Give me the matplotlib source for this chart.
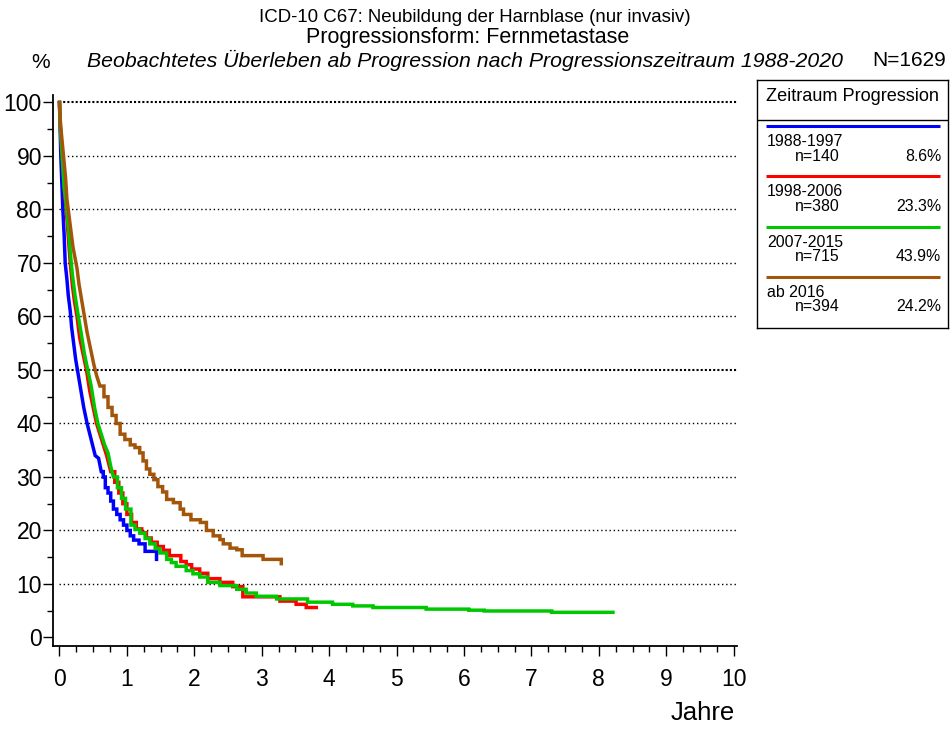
import matplotlib
matplotlib.use('Agg')
import matplotlib.pyplot as plt
from matplotlib.ticker import MultipleLocator

plt.rcParams['font.family'] = ['Liberation Sans', 'DejaVu Sans']

# Kaplan-Meier steps (years, survival in %)
t_1988 = [0, 0.01, 0.02, 0.035, 0.05, 0.07, 0.085, 0.11, 0.13, 0.16, 0.18, 0.21, 0.24,
          0.28, 0.32, 0.36, 0.41, 0.45, 0.49, 0.53, 0.58, 0.62, 0.65, 0.68, 0.72, 0.76,
          0.8, 0.85, 0.9, 0.95, 1.0, 1.05, 1.1, 1.18, 1.27, 1.44]
s_1988 = [100, 95, 90, 85, 80, 75, 70, 67, 64, 61, 58, 55, 52,
          49, 46, 43, 40, 38, 36, 34, 33.5, 31, 30, 28, 27, 25.5,
          24, 23, 22, 21, 20, 19, 18.2, 17.5, 16.1, 14.6]

t_1998 = [0, 0.01, 0.03, 0.05, 0.07, 0.1, 0.13, 0.16, 0.19, 0.22, 0.26, 0.3, 0.35, 0.4,
          0.45, 0.5, 0.55, 0.6, 0.65, 0.7, 0.76, 0.82, 0.88, 0.94, 1.0, 1.07, 1.14, 1.22,
          1.29, 1.36, 1.45, 1.54, 1.63, 1.8, 1.88, 1.96, 2.08, 2.2, 2.38, 2.57, 2.72,
          3.27, 3.51, 3.66, 3.81]
s_1998 = [100, 96, 92, 88, 84, 80, 75, 70, 66, 63, 60, 56, 53, 50,
          46, 43, 40, 38, 36, 34, 31, 29, 27, 25, 23, 21.5, 20.3, 19.6,
          18.6, 17.8, 17.0, 16.3, 15.3, 14.2, 13.6, 12.8, 12.0, 11.0, 10.3, 9.5, 7.6,
          6.8, 6.2, 5.6, 5.6]

t_2007 = [0, 0.01, 0.03, 0.05, 0.07, 0.1, 0.13, 0.16, 0.19, 0.23, 0.28, 0.32, 0.37, 0.42,
          0.47, 0.52, 0.57, 0.62, 0.67, 0.72, 0.76, 0.8, 0.86, 0.92, 0.98, 1.06, 1.12,
          1.19, 1.27, 1.34, 1.42, 1.49, 1.59, 1.66, 1.73, 1.88, 1.98, 2.08, 2.2, 2.38,
          2.63, 2.77, 2.92, 3.22, 3.68, 4.05, 4.35, 4.65, 5.44, 6.07, 6.3, 7.3, 8.21]
s_2007 = [100, 96, 92, 88, 84, 81, 77, 72, 68, 64, 60, 57, 53, 50,
          47, 43, 40, 38, 36, 34.5, 32, 30, 28, 26, 24, 21, 20.2,
          19.5, 18.5, 17.5, 16.6, 15.8, 14.6, 14, 13.3, 12.5, 11.9, 11.3, 10.3, 9.7,
          9, 8.3, 7.7, 7.2, 6.6, 6.2, 5.9, 5.6, 5.3, 5.1, 4.95, 4.7, 4.7]

t_2016 = [0, 0.01, 0.03, 0.06, 0.09, 0.11, 0.14, 0.17, 0.2, 0.23, 0.26, 0.29, 0.33, 0.37,
          0.41, 0.46, 0.51, 0.55, 0.6, 0.66, 0.72, 0.78, 0.84, 0.9, 0.97, 1.05, 1.12,
          1.19, 1.24, 1.29, 1.34, 1.4, 1.46, 1.53, 1.59, 1.69, 1.79, 1.84, 1.95, 2.09,
          2.18, 2.28, 2.38, 2.43, 2.53, 2.63, 2.71, 3.02, 3.29]
s_2016 = [100, 97, 94, 90, 86, 82, 79, 76, 73, 71, 69, 66, 63, 60,
          57, 54, 51, 49, 47, 45, 43, 41.5, 40, 38, 37, 36, 35.5,
          34.5, 33, 31.5, 30.5, 29.5, 28.2, 27.2, 25.8, 25.2, 24, 23, 22, 21.5,
          20, 19, 18.3, 17.5, 16.7, 16.4, 15.3, 14.6, 13.8]

periods = ['1988-1997', '1998-2006', '2007-2015', 'ab 2016']
counts = [140, 380, 715, 394]
shares = [8.6, 23.3, 43.9, 24.2]
colors = ['#0000ff', '#ff0000', '#00c800', '#a3560a']

times = [t_1988, t_1998, t_2007, t_2016]
survival = [s_1988, s_1998, s_2007, s_2016]
# up to here the tiny steps merge into a slope, so draw it straight
steep_until = [0.62, 0.8, 0.8, 0.6]


def km_path(t, s, smooth):
    xs, ys = [t[0]], [s[0]]
    for i in range(1, len(t)):
        if t[i] <= smooth:
            xs.append(t[i])
            ys.append(s[i])
        else:
            xs += [t[i], t[i]]
            ys += [s[i - 1], s[i]]
    return xs, ys


W, H = 951, 729
fig = plt.figure(figsize=(W / 100, H / 100), dpi=100)
ax = fig.add_axes([53 / W, 1 - 645.5 / H, (737 - 53) / W, (645.5 - 95) / H])
ax.set_xlim(-0.096, 10.05)
ax.set_ylim(-1.5, 101.4)
ax.spines['top'].set_visible(False)
ax.spines['right'].set_visible(False)
ax.spines['left'].set_linewidth(1.3)
ax.spines['bottom'].set_linewidth(1.3)

# dotted reference lines, 50 and 100 a bit heavier
for y in range(10, 101, 10):
    if y in (50, 100):
        ax.hlines(y, 0, 10.05, colors='black', linestyles=(0, (1, 1)), linewidth=1.5)
    else:
        ax.hlines(y, 0, 10.05, colors='black', linestyles=(0, (1, 2)), linewidth=1.0)

for t, s, c, sm in zip(times, survival, colors, steep_until):
    xs, ys = km_path(t, s, sm)
    ax.plot(xs, ys, color=c, linewidth=2.5, solid_joinstyle='miter')

ax.xaxis.set_major_locator(MultipleLocator(1))
ax.xaxis.set_minor_locator(MultipleLocator(0.25))
ax.yaxis.set_major_locator(MultipleLocator(10))
ax.yaxis.set_minor_locator(MultipleLocator(5))
ax.tick_params(which='major', length=7, width=1, labelsize=16.5, direction='out')
ax.tick_params(which='minor', length=4, width=1, direction='out')
ax.tick_params(axis='x', which='major', pad=9)
ax.tick_params(axis='y', which='major', pad=1)

fig.text(735 / W, 1 - 713 / H, 'Jahre', ha='right', va='center', fontsize=18.5)

# titles
fig.text(475 / W, 1 - 17 / H, 'ICD-10 C67: Neubildung der Harnblase (nur invasiv)',
         ha='center', va='center', fontsize=13.4)
fig.text(468 / W, 1 - 37 / H, 'Progressionsform: Fernmetastase',
         ha='center', va='center', fontsize=15.5)
fig.text(465 / W, 1 - 60 / H,
         'Beobachtetes Überleben ab Progression nach Progressionszeitraum 1988-2020',
         ha='center', va='center', fontsize=15.3, style='italic')
fig.text(41 / W, 1 - 62 / H, '%', ha='center', va='center', fontsize=15)
fig.text(946 / W, 1 - 60 / H, 'N=1629', ha='right', va='center', fontsize=15)

# legend box drawn in its own pixel-scaled axes
lax = fig.add_axes([757 / W, 1 - 328 / H, 191 / W, 248 / H])
lax.set_xlim(0, 191)
lax.set_ylim(248, 0)
lax.set_xticks([])
lax.set_yticks([])
for sp in lax.spines.values():
    sp.set_linewidth(1.0)
lax.text(95.5, 16, 'Zeitraum Progression', ha='center', va='center', fontsize=13.1)
lax.axhline(39.5, color='black', linewidth=1.0)
for i, (p, n, sh, c) in enumerate(zip(periods, counts, shares, colors)):
    y0 = 46 + 50.3 * i
    lax.plot([9, 183], [y0, y0], color=c, linewidth=2.2, solid_capstyle='butt')
    lax.text(10, y0 + 15.5, p, ha='left', va='center', fontsize=11.4)
    lax.text(38, y0 + 30, 'n=%d' % n, ha='left', va='center', fontsize=11.4)
    lax.text(184, y0 + 30, '%.1f%%' % sh, ha='right', va='center', fontsize=11.4)

fig.savefig('out.png', dpi=100)
